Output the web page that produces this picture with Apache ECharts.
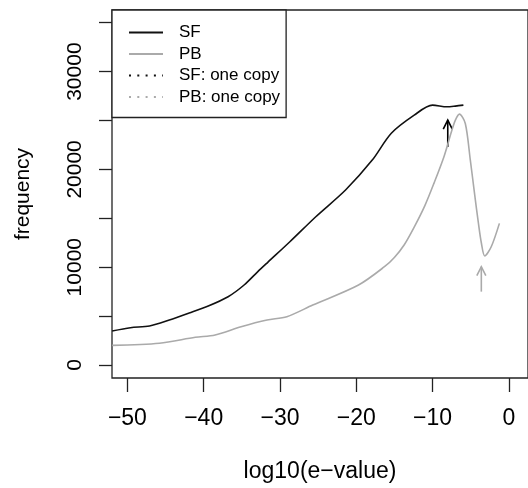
<!DOCTYPE html>
<html>
<head>
<meta charset="utf-8">
<script src="https://cdn.jsdelivr.net/npm/echarts@6/dist/echarts.min.js"></script>
<style>
  html, body { margin: 0; padding: 0; background: #fff; }
  #chart { width: 528px; height: 488px; }
</style>
</head>
<body>
<div id="chart"></div>
<script>
// SF curve (black)
var sfX = [-52, -49.6, -47.1, -44.5, -41.9, -39.4, -36.8, -34.7, -32.9, -31.6, -28.7, -25.3, -21.4, -17.9, -15.4, -12.4, -10.0, -8.1, -7.0, -5.95];
var sfY = [3475, 3810, 3990, 4600, 5310, 6030, 6980, 8180, 9550, 10500, 12600, 15160, 17890, 20950, 23700, 25550, 26570, 26400, 26470, 26570];
// PB curve (grey)
var pbX = [-52, -45.8, -41.1, -38.5, -35.1, -31.7, -29.1, -25.7, -19.7, -16.3, -15.0, -13.7, -12.4, -11.0, -9.8, -8.5, -7.5, -7.0, -6.47, -5.7, -5.05, -4.5, -4.0, -3.6, -3.15, -2.3, -1.23];
var pbY = [2010, 2220, 2830, 3070, 3910, 4600, 4940, 6130, 8180, 10050, 11000, 12300, 14100, 16300, 18600, 21300, 23900, 25040, 25650, 24700, 21000, 17600, 14600, 12500, 11150, 12090, 14480];
// arrows marking the "one copy" positions
var arrowX = [-8.0, -3.6];
var arrowFrom = [22300, 7500];
var arrowTo = [25050, 10050];
var arrowColor = ['#000000', '#aaaaaa'];

var xTicks = [-50, -40, -30, -20, -10, 0];
var yTicks = [0, 5000, 10000, 15000, 20000, 25000, 30000, 35000];
var yLabels = [0, 10000, 20000, 30000];

function pairs(xs, ys) {
  return xs.map(function (x, i) { return [x, ys[i]]; });
}

var font = '"Liberation Sans", Arial, sans-serif';
var chart = echarts.init(document.getElementById('chart'));

chart.setOption({
  backgroundColor: '#fff',
  animation: false,
  grid: {
    left: 112,
    top: 10,
    right: -8,
    bottom: 110,
    show: true,
    borderColor: '#222',
    borderWidth: 1.3,
    backgroundColor: 'transparent'
  },
  legend: {
    orient: 'vertical',
    left: 112,
    top: 10,
    padding: [14, 6, 12, 16],
    itemWidth: 34,
    itemHeight: 14,
    itemGap: 4.5,
    borderColor: '#222',
    borderWidth: 1.3,
    backgroundColor: '#fff',
    selectedMode: false,
    itemStyle: { opacity: 0 },
    textStyle: { fontFamily: font, fontSize: 17, color: '#000', padding: [0, 0, 0, 11] },
    data: ['SF', 'PB', 'SF: one copy', 'PB: one copy']
  },
  xAxis: {
    type: 'value',
    min: -52.02,
    max: 2.52,
    name: 'log10(e\u2212value)',
    nameLocation: 'middle',
    nameGap: 82,
    nameTextStyle: { fontFamily: font, fontSize: 23, color: '#000' },
    splitLine: { show: false },
    axisLine: { show: false, onZero: false },
    axisTick: { show: true, customValues: xTicks, length: 14, lineStyle: { color: '#222', width: 1.3 } },
    axisLabel: {
      customValues: xTicks,
      margin: 29,
      fontFamily: font,
      fontSize: 23,
      color: '#000',
      formatter: function (v) { return String(v).replace('-', '\u2212'); }
    }
  },
  yAxis: {
    type: 'value',
    min: -1330,
    max: 36300,
    name: 'frequency',
    nameLocation: 'middle',
    nameGap: 78,
    nameRotate: 90,
    nameTextStyle: { fontFamily: font, fontSize: 21, color: '#000' },
    splitLine: { show: false },
    axisLine: { show: false, onZero: false },
    axisTick: { show: true, customValues: yTicks, length: 13, lineStyle: { color: '#222', width: 1.3 } },
    axisLabel: {
      customValues: yLabels,
      rotate: 90,
      margin: 26,
      fontFamily: font,
      fontSize: 21,
      color: '#000',
      formatter: function (v) { return String(v); }
    }
  },
  series: [
    {
      name: 'SF',
      type: 'line',
      data: pairs(sfX, sfY),
      smooth: 0.3,
      symbol: 'none',
      lineStyle: { color: '#111', width: 1.6 },
      itemStyle: { color: '#111' }
    },
    {
      name: 'PB',
      type: 'line',
      data: pairs(pbX, pbY),
      smooth: 0.3,
      symbol: 'none',
      lineStyle: { color: '#aaaaaa', width: 1.6 },
      itemStyle: { color: '#aaaaaa' }
    },
    {
      name: 'SF: one copy',
      type: 'line',
      data: [],
      symbol: 'none',
      lineStyle: { color: '#111', width: 1.8, type: [2, 6.3] },
      itemStyle: { color: '#111' }
    },
    {
      name: 'PB: one copy',
      type: 'line',
      data: [],
      symbol: 'none',
      lineStyle: { color: '#aaaaaa', width: 1.8, type: [2, 6.3] },
      itemStyle: { color: '#aaaaaa' }
    },
    {
      type: 'custom',
      silent: true,
      data: arrowX.map(function (x, i) { return [x, arrowFrom[i], arrowTo[i], i]; }),
      renderItem: function (params, api) {
        var p0 = api.coord([api.value(0), api.value(1)]);
        var p1 = api.coord([api.value(0), api.value(2)]);
        var col = arrowColor[api.value(3)];
        var style = { stroke: col, lineWidth: 1.6, fill: null };
        return {
          type: 'group',
          children: [
            { type: 'line', shape: { x1: p0[0], y1: p0[1], x2: p1[0], y2: p1[1] }, style: style },
            { type: 'polyline', shape: { points: [[p1[0] - 4.5, p1[1] + 9], [p1[0], p1[1]], [p1[0] + 4.5, p1[1] + 9]] }, style: style }
          ]
        };
      }
    }
  ]
});
</script>
</body>
</html>
